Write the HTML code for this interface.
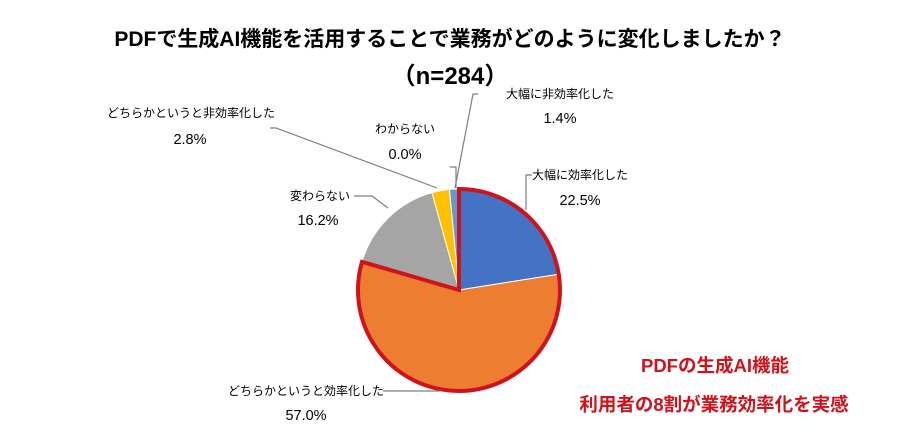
<!DOCTYPE html>
<html><head><meta charset="utf-8"><style>
html,body{margin:0;padding:0;background:#fff;}
svg{display:block;}
text{font-family:"Liberation Sans","Noto Sans CJK JP",sans-serif;}
</style></head><body>
<svg width="900" height="433" viewBox="0 0 900 433" xmlns="http://www.w3.org/2000/svg">
<rect width="900" height="433" fill="#fff"/>
<text x="450" y="46" text-anchor="middle" font-size="21" font-weight="bold" fill="#000">PDFで生成AI機能を活用することで業務がどのように変化しましたか？</text>
<text x="450" y="84" text-anchor="middle" font-size="24" font-weight="bold" fill="#000">（n=284）</text>

<path d="M459,290 L459,189 A101,101 0 0 1 558.8,274.2 Z" fill="#4472c4" stroke="#fff" stroke-width="1"/>
<path d="M459,290 L558.8,274.2 A101,101 0 1 1 362,261.8 Z" fill="#ed7d31" stroke="#fff" stroke-width="1"/>
<path d="M459,290 L362,261.8 A101,101 0 0 1 432,192.7 Z" fill="#a5a5a5" stroke="#fff" stroke-width="1"/>
<path d="M459,290 L432,192.7 A101,101 0 0 1 449.5,189.4 Z" fill="#ffc000" stroke="#fff" stroke-width="1"/>
<path d="M459,290 L449.5,189.4 A101,101 0 0 1 459,189 Z" fill="#5b9bd5" stroke="#fff" stroke-width="1"/>
<path d="M459,290 L459,189 A101,101 0 1 1 362,261.8 Z" fill="none" stroke="#d0121b" stroke-width="4"/>

<g fill="none" stroke="#7f7f7f" stroke-width="1.2">
<polyline points="270,128 276,128 437,188"/>
<polyline points="450,167 456,167 456,188"/>
<polyline points="478,94 473,94 455,188"/>
<polyline points="532,175 526,175 526,210"/>
<polyline points="354,196 372,196 388,208"/>
<polyline points="383,391 440,391"/>
</g>

<g font-size="12" fill="#000" text-anchor="middle">
<text x="191" y="117">どちらかというと非効率化した</text>
<text x="405" y="133">わからない</text>
<text x="560" y="98">大幅に非効率化した</text>
<text x="580" y="179">大幅に効率化した</text>
<text x="320" y="200">変わらない</text>
<text x="306" y="395">どちらかというと効率化した</text>
</g>
<g font-size="14.5" fill="#000" text-anchor="middle">
<text x="190" y="144">2.8%</text>
<text x="405" y="159">0.0%</text>
<text x="560" y="123">1.4%</text>
<text x="580" y="205">22.5%</text>
<text x="318" y="225">16.2%</text>
<text x="306" y="420">57.0%</text>
</g>

<g font-size="18.5" font-weight="bold" fill="#d0121b" text-anchor="middle">
<text x="715" y="372">PDFの生成AI機能</text>
<text x="714" y="411">利用者の8割が業務効率化を実感</text>
</g>
</svg>
</body></html>
